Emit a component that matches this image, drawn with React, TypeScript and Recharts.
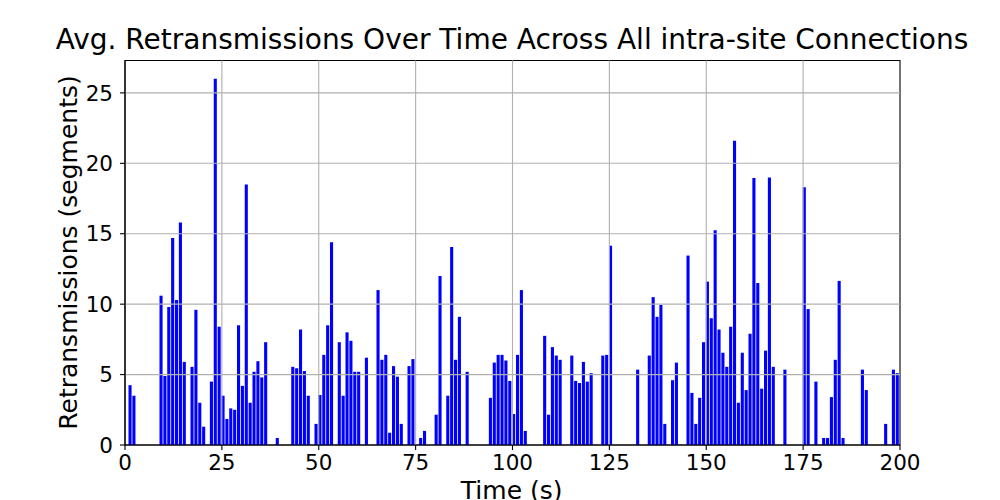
import React from "react";
import { BarChart, Bar, XAxis, YAxis, ReferenceLine, ReferenceArea } from "recharts";

const times: number[] = [
  1, 2, 9, 10, 11, 12, 13, 14, 15, 17, 18, 19, 20, 22, 23, 24, 25, 26, 27, 28, 29, 30,
  31, 32, 33, 34, 35, 36, 39, 43, 44, 45, 46, 47, 49, 50, 51, 52, 53, 55, 56, 57, 58,
  59, 60, 62, 65, 66, 67, 68, 69, 70, 71, 73, 74, 76, 77, 80, 81, 83, 84, 85, 86, 88,
  94, 95, 96, 97, 98, 99, 100, 101, 102, 103, 108, 109, 110, 111, 112, 115, 116, 117,
  118, 119, 120, 123, 124, 125, 132, 135, 136, 137, 138, 139, 141, 142, 145, 146, 147,
  148, 149, 150, 151, 152, 153, 154, 155, 156, 157, 158, 159, 160, 161, 162, 163, 164,
  165, 166, 167, 170, 175, 176, 178, 180, 181, 182, 183, 184, 185, 190, 191, 196, 198, 199,
];

const retransmissions: number[] = [
  4.25, 3.5, 10.6, 4.9, 9.8, 14.7, 10.3, 15.8, 5.9, 5.55, 9.6, 3.0, 1.3, 4.5, 26.0, 8.4,
  3.5, 1.85, 2.6, 2.5, 8.5, 4.2, 18.5, 3.0, 5.2, 5.95, 4.8, 7.3, 0.5, 5.55, 5.45, 8.2,
  5.25, 3.5, 1.5, 3.55, 6.4, 8.5, 14.4, 7.3, 3.5, 8.0, 7.4, 5.2, 5.2, 6.2, 11.0, 6.05,
  6.4, 0.87, 5.6, 4.85, 1.5, 5.6, 6.1, 0.5, 1.0, 2.15, 12.0, 3.5, 14.05, 6.05, 9.1, 5.2,
  3.35, 5.85, 6.4, 6.4, 6.0, 4.55, 2.2, 6.4, 11.0, 1.0, 7.75, 2.15, 6.95, 6.35, 6.05,
  6.35, 4.55, 4.4, 5.9, 4.5, 5.1, 6.35, 6.4, 14.15, 5.35, 6.35, 10.5, 9.1, 9.95, 1.5,
  4.6, 5.85, 13.45, 3.7, 1.5, 3.35, 7.3, 11.6, 9.0, 15.25, 8.2, 6.55, 5.55, 8.4, 21.6,
  3.0, 6.55, 3.9, 7.9, 18.95, 11.5, 4.0, 6.7, 19.0, 5.55, 5.35, 18.3, 9.65, 4.5, 0.5,
  0.5, 3.4, 6.05, 11.65, 0.5, 5.35, 3.9, 1.5, 5.35, 5.1,
];

const xTicks: number[] = [0, 25, 50, 75, 100, 125, 150, 175, 200];
const yTicks: number[] = [0, 5, 10, 15, 20, 25];

const data = times.map((t, i) => ({ time: t + 0.4, value: retransmissions[i] }));

const FONT = "'DejaVu Sans', sans-serif";
const GRID = "#b0b0b0";

export default function App() {
  return (
    <div style={{ position: "absolute", left: 0, top: 0, width: 1000, height: 500, background: "#fff", fontFamily: FONT, overflow: "hidden" }}>
      <BarChart
        width={1000}
        height={500}
        data={data}
        margin={{ top: 60.5, right: 100, left: 0, bottom: 0 }}
      >
        <XAxis
          dataKey="time"
          type="number"
          domain={[0, 200]}
          ticks={xTicks}
          allowDataOverflow
          height={55}
          tickSize={5}
          tickMargin={5}
          axisLine={{ stroke: "#000", strokeWidth: 1.1 }}
          tickLine={{ stroke: "#000", strokeWidth: 1.1 }}
          tick={{ fill: "#000", fontSize: 21.5, fontFamily: FONT }}
          interval={0}
        />
        <YAxis
          type="number"
          domain={[0, 27.3]}
          ticks={yTicks}
          allowDataOverflow
          width={125}
          tickSize={5}
          tickMargin={7}
          axisLine={{ stroke: "#000", strokeWidth: 1.1 }}
          tickLine={{ stroke: "#000", strokeWidth: 1.1 }}
          tick={{ fill: "#000", fontSize: 21.5, fontFamily: FONT }}
          interval={0}
        />
        <Bar dataKey="value" fill="#0000ff" barSize={3.1} isAnimationActive={false} />
        {xTicks.slice(1, -1).map((t) => (
          <ReferenceLine key={"vx" + t} x={t} stroke={GRID} strokeWidth={1.1} />
        ))}
        {yTicks.slice(1).map((t) => (
          <ReferenceLine key={"hy" + t} y={t} stroke={GRID} strokeWidth={1.1} />
        ))}
        <ReferenceArea x1={0} x2={200} y1={0} y2={27.3} fill="none" fillOpacity={0} stroke="#000" strokeWidth={1.1} strokeOpacity={1} />
      </BarChart>
      <div
        style={{
          position: "absolute",
          left: 12,
          top: 26.3,
          width: 1000,
          textAlign: "center",
          fontSize: 28,
          lineHeight: "28px",
          whiteSpace: "nowrap",
          color: "#000",
        }}
      >
        Avg. Retransmissions Over Time Across All intra-site Connections
      </div>
      <div
        style={{
          position: "absolute",
          left: 68 - 200,
          top: 252.5 - 12.5,
          width: 400,
          height: 25,
          textAlign: "center",
          fontSize: 25,
          lineHeight: "25px",
          whiteSpace: "nowrap",
          transform: "rotate(-90deg)",
          transformOrigin: "50% 50%",
          color: "#000",
        }}
      >
        Retransmissions (segments)
      </div>
      <div
        style={{
          position: "absolute",
          left: 11.7,
          top: 478,
          width: 1000,
          textAlign: "center",
          fontSize: 25,
          lineHeight: "25px",
          whiteSpace: "nowrap",
          color: "#000",
        }}
      >
        Time (s)
      </div>
    </div>
  );
}
